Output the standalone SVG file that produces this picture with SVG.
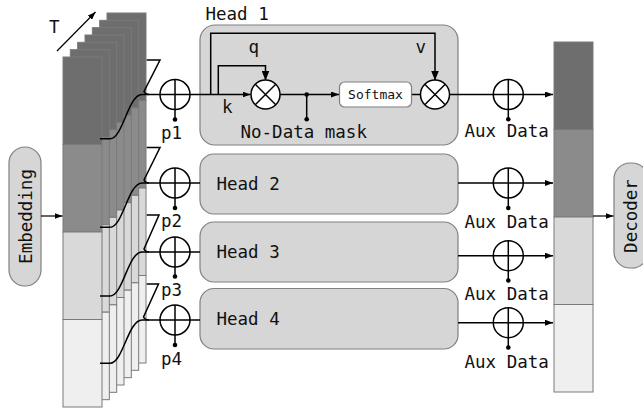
<svg xmlns="http://www.w3.org/2000/svg" xmlns:xlink="http://www.w3.org/1999/xlink" width="643" height="408" viewBox="0 0 643 408">
<style>
.t{font-family:"DejaVu Sans Mono","Liberation Mono",monospace;font-size:17.5px;fill:#111}
.sm{font-family:"DejaVu Sans Mono","Liberation Mono",monospace;font-size:13px;fill:#111}
.c1{fill:#6e6e6e}.c2{fill:#8b8b8b}.c3{fill:#d9d9d9}.c4{fill:#efefef}
.sec{stroke:#7a7a7a;stroke-width:1}
.box{fill:#d6d6d6;stroke:#808080;stroke-width:1.2}
.ln{fill:none;stroke:#000;stroke-width:1.5}
.nd{fill:#fff;stroke:#000;stroke-width:1.5}
.dot{fill:#000}
</style>
<defs>
<marker id="ah" viewBox="0 0 8 6" refX="8" refY="3" markerWidth="8" markerHeight="6" markerUnits="userSpaceOnUse" orient="auto"><path d="M0,0 L8,3 L0,6 z" fill="#000"/></marker>
<marker id="ahb" viewBox="0 0 10 8" refX="10" refY="4" markerWidth="10" markerHeight="8" markerUnits="userSpaceOnUse" orient="auto"><path d="M0,0 L10,4 L0,8 z" fill="#000"/></marker>
<g id="slice">
<rect class="c1 sec" x="0" y="0" width="39" height="87.5"/>
<rect class="c2 sec" x="0" y="87.5" width="39" height="87.5"/>
<rect class="c3 sec" x="0" y="175" width="39" height="87.5"/>
<rect class="c4 sec" x="0" y="262.5" width="39" height="87.5"/>
</g>
</defs>

<g id="slices">
<use xlink:href="#slice" transform="translate(107,13)"/>
<use xlink:href="#slice" transform="translate(99.67,20.33)"/>
<use xlink:href="#slice" transform="translate(92.33,27.67)"/>
<use xlink:href="#slice" transform="translate(85,35)"/>
<use xlink:href="#slice" transform="translate(77.67,42.33)"/>
<use xlink:href="#slice" transform="translate(70.33,49.67)"/>
<use xlink:href="#slice" transform="translate(63,57)"/>
</g>

<g id="output-bar">
<use xlink:href="#slice" transform="translate(554,42)"/>
</g>

<g id="embedding">
<rect class="box" x="9" y="147" width="32" height="139" rx="16"/>
<text class="t" transform="translate(32,216.5) rotate(-90)" text-anchor="middle">Embedding</text>
</g>

<g id="decoder">
<rect class="box" x="614" y="163" width="34" height="105" rx="16"/>
<text class="t" transform="translate(637,216) rotate(-90)" text-anchor="middle">Decoder</text>
</g>

<g id="head1">
<rect class="box" x="200" y="25" width="258" height="120" rx="15"/>
<text class="t" x="205.5" y="19.5">Head 1</text>
</g>
<g id="head2">
<rect class="box" x="200" y="154" width="258" height="60" rx="14"/>
<text class="t" x="216.5" y="190">Head 2</text>
</g>
<g id="head3">
<rect class="box" x="200" y="222" width="258" height="60" rx="14"/>
<text class="t" x="216.5" y="257.5">Head 3</text>
</g>
<g id="head4">
<rect class="box" x="200" y="288.5" width="258" height="60.5" rx="14"/>
<text class="t" x="216.5" y="324.5">Head 4</text>
</g>

<g id="connectors">
<line class="ln" x1="57" y1="51" x2="95.5" y2="12" marker-end="url(#ah)" style="stroke-width:1.2"/>
<line class="ln" x1="41" y1="216" x2="62.5" y2="216" marker-end="url(#ah)" style="stroke-width:1.2"/>
<line class="ln" x1="593" y1="216" x2="613.5" y2="216" marker-end="url(#ah)" style="stroke-width:1.2"/>
<path class="ln" d="M100,138.7 H110 C123,138.7 128,94.5 142,94.5 H250.5" marker-end="url(#ah)"/>
<path class="ln" d="M100,227.3 H110 C123,227.3 128,183 142,183 H200"/>
<path class="ln" d="M100,296 H110 C123,296 128,252 142,252 H200"/>
<path class="ln" d="M100,363.3 H110 C123,363.3 128,320 142,320 H200"/>
<path class="ln" d="M146.7,60 H160 L144,91.5 Q145.5,94.5 149,94.5"/>
<path class="ln" d="M146.7,147.5 H160 L144,180 Q145.5,183 149,183"/>
<path class="ln" d="M146.7,215 H159 L144,249 Q145.5,252 149,252"/>
<path class="ln" d="M146.7,284 H158.5 L143.5,317 Q145,320 149,320"/>
<path class="ln" d="M210.7,94.5 V33.3 H435 V80.5" marker-end="url(#ahb)"/>
<path class="ln" d="M218.3,94.5 V65.7 H265.5 V80.5" marker-end="url(#ahb)"/>
<path class="ln" d="M280,94.5 H339" marker-end="url(#ah)"/>
<path class="ln" d="M411.7,94.5 H420.5"/>
<path class="ln" d="M306.7,94.5 V119.3"/>
<circle class="dot" cx="306.7" cy="94.5" r="2.3"/>
<circle class="dot" cx="306.7" cy="119.3" r="2.3"/>
<path class="ln" d="M449.5,94.5 H553" marker-end="url(#ah)"/>
<path class="ln" d="M458,183 H553" marker-end="url(#ah)"/>
<path class="ln" d="M458,255.7 H553" marker-end="url(#ah)"/>
<path class="ln" d="M458,322.7 H553" marker-end="url(#ah)"/>
</g>

<g id="sum-p1">
<circle class="nd" cx="175" cy="94.5" r="15"/>
<path class="ln" d="M160,94.5 H190 M175,79.5 V119.5"/>
<circle class="dot" cx="175" cy="119.5" r="2.3"/>
<text class="t" x="161" y="139">p1</text>
</g>
<g id="sum-p2">
<circle class="nd" cx="175" cy="183" r="15"/>
<path class="ln" d="M160,183 H190 M175,168 V208"/>
<circle class="dot" cx="175" cy="208" r="2.3"/>
<text class="t" x="161" y="227">p2</text>
</g>
<g id="sum-p3">
<circle class="nd" cx="175" cy="252" r="15"/>
<path class="ln" d="M160,252 H190 M175,237 V276.5"/>
<circle class="dot" cx="175" cy="276.5" r="2.3"/>
<text class="t" x="161" y="296">p3</text>
</g>
<g id="sum-p4">
<circle class="nd" cx="175" cy="320" r="15"/>
<path class="ln" d="M160,320 H190 M175,305 V345"/>
<circle class="dot" cx="175" cy="345" r="2.3"/>
<text class="t" x="161" y="364.5">p4</text>
</g>

<g id="mul-qk">
<circle class="nd" cx="265.5" cy="94.5" r="14.5"/>
<path class="ln" d="M255.25,84.25 L275.75,104.75 M275.75,84.25 L255.25,104.75"/>
</g>
<g id="softmax">
<rect x="339.5" y="82" width="72" height="25" rx="5" fill="#fff" stroke="#808080" stroke-width="1.2"/>
<text class="sm" x="375.5" y="99" text-anchor="middle">Softmax</text>
</g>
<g id="mul-v">
<circle class="nd" cx="435" cy="94.5" r="14.5"/>
<path class="ln" d="M424.75,84.25 L445.25,104.75 M445.25,84.25 L424.75,104.75"/>
</g>
<g id="head1-labels">
<text class="t" x="248.5" y="53.3">q</text>
<text class="t" x="415.5" y="53.3">v</text>
<text class="t" x="222" y="112.7">k</text>
<text class="t" x="240.5" y="137.7">No-Data mask</text>
</g>

<g id="aux1">
<circle class="nd" cx="508.3" cy="94.5" r="15"/>
<path class="ln" d="M493.3,94.5 H523.3 M508.3,79.5 V119.3"/>
<circle class="dot" cx="508.3" cy="119.3" r="2.3"/>
<text class="t" x="464.5" y="137">Aux Data</text>
</g>
<g id="aux2">
<circle class="nd" cx="508.3" cy="183" r="15"/>
<path class="ln" d="M493.3,183 H523.3 M508.3,168 V208"/>
<circle class="dot" cx="508.3" cy="208" r="2.3"/>
<text class="t" x="464.5" y="228">Aux Data</text>
</g>
<g id="aux3">
<circle class="nd" cx="508.3" cy="255.7" r="15"/>
<path class="ln" d="M493.3,255.7 H523.3 M508.3,240.7 V280.5"/>
<circle class="dot" cx="508.3" cy="280.5" r="2.3"/>
<text class="t" x="464.5" y="300">Aux Data</text>
</g>
<g id="aux4">
<circle class="nd" cx="508.3" cy="322.7" r="15"/>
<path class="ln" d="M493.3,322.7 H523.3 M508.3,307.7 V347.5"/>
<circle class="dot" cx="508.3" cy="347.5" r="2.3"/>
<text class="t" x="464.5" y="368">Aux Data</text>
</g>

<g id="t-label">
<text class="t" x="49" y="33.3">T</text>
</g>
</svg>
